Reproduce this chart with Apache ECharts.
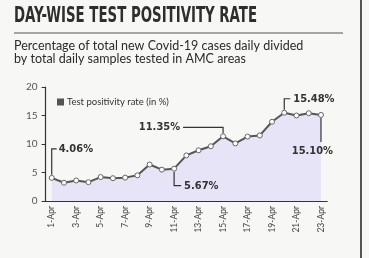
<!DOCTYPE html>
<html>
<head>
<meta charset="utf-8">
<script src="https://cdn.jsdelivr.net/npm/echarts@6/dist/echarts.min.js"></script>
<style>
  html, body { margin: 0; padding: 0; background: #f7f7f5; }
  #main { width: 369px; height: 258px; }
</style>
</head>
<body>
<div id="main"></div>
<script type="text/javascript">
// data
var days = ['1-Apr','2-Apr','3-Apr','4-Apr','5-Apr','6-Apr','7-Apr','8-Apr','9-Apr','10-Apr','11-Apr','12-Apr',
            '13-Apr','14-Apr','15-Apr','16-Apr','17-Apr','18-Apr','19-Apr','20-Apr','21-Apr','22-Apr','23-Apr'];
var rate = [4.06, 3.2, 3.6, 3.3, 4.2, 4.0, 4.1, 4.5, 6.4, 5.5, 5.67, 8.0,
            8.9, 9.6, 11.35, 10.1, 11.3, 11.5, 13.9, 15.48, 15.0, 15.4, 15.10];
var yTicks = [0, 5, 10, 15, 20];
var calloutIdx = [0, 14, 10, 19, 22];

var chart = echarts.init(document.getElementById('main'));
var ink = '#333';

var option = {
    backgroundColor: '#f7f7f5',
    animation: false,
    title: [{
        text: 'Percentage of total new Covid-19 cases daily divided\nby total daily samples tested in AMC areas',
        left: 14, top: 39, padding: 0,
        textStyle: { fontFamily: 'Lato', fontWeight: 'normal', fontSize: 12.5, lineHeight: 13.5, color: '#2b2b2b' }
    }],
    legend: {
        left: 52, top: 92,
        itemWidth: 7, itemHeight: 7, itemGap: 4,
        icon: 'rect',
        textStyle: { fontFamily: 'Lato', fontSize: 9.5, color: '#333', padding: [0, 0, 0, -2] },
        data: [{ name: 'Test positivity rate (in %)', itemStyle: { color: '#555', borderWidth: 0 } }]
    },
    grid: { left: 45.6, right: 41.9, top: 87, bottom: 57 },
    xAxis: {
        type: 'category',
        data: days,
        boundaryGap: true,
        axisLine: { lineStyle: { color: '#333', width: 1.2 } },
        axisTick: { alignWithLabel: true, interval: 0, length: 3, lineStyle: { color: '#333' } },
        axisLabel: { interval: 1, rotate: 90, fontFamily: 'Lato', fontSize: 8.5, color: '#444', margin: 5 }
    },
    yAxis: {
        type: 'value',
        min: yTicks[0], max: yTicks[yTicks.length - 1], interval: 5,
        axisLine: { show: true, lineStyle: { color: '#333', width: 1.2 } },
        axisTick: { show: true, length: 4, lineStyle: { color: '#333' } },
        splitLine: { show: false },
        axisLabel: { fontFamily: 'Lato', fontSize: 10, color: '#555', margin: 8 }
    },
    series: [{
        name: 'Test positivity rate (in %)',
        type: 'line',
        data: rate,
        symbol: 'circle',
        symbolSize: 5,
        lineStyle: { color: '#555', width: 2 },
        itemStyle: { color: '#fff', borderColor: '#666', borderWidth: 1 },
        areaStyle: { color: '#e6e4f6', opacity: 1 }
    }]
};
chart.setOption(option);

// heading: condensed look, squeezed to the width it has in the picture
var headFont = 'bold 21px "DejaVu Sans Condensed", "DejaVu Sans"';
var ctx = document.createElement('canvas').getContext('2d');
ctx.font = headFont;
var headW = ctx.measureText('DAY-WISE TEST POSITIVITY RATE').width;

// callouts: leader lines + labels placed from the data through the chart scales
function pt(i) { return chart.convertToPixel({ seriesIndex: 0 }, [i, rate[i]]); }
var font = 'bold 11px "DejaVu Sans Condensed", "DejaVu Sans"';
var els = [];
function lbl(x, y, txt, align, vAlign) {
    els.push({ type: 'text', z: 100, x: x, y: y, style: { text: txt, font: font, fill: ink, align: align, verticalAlign: vAlign || 'middle' } });
}
function leader(points) {
    els.push({ type: 'polyline', z: 100, shape: { points: points }, style: { stroke: ink, lineWidth: 1.2, fill: null } });
}
var p;
p = pt(calloutIdx[0]);
leader([[p[0], p[1] - 3], [p[0], p[1] - 29], [p[0] + 5, p[1] - 29]]);
lbl(p[0] + 7, p[1] - 29, rate[calloutIdx[0]].toFixed(2) + '%', 'left');

p = pt(calloutIdx[1]);
leader([[p[0], p[1] - 3], [p[0], p[1] - 9], [p[0] - 40, p[1] - 9]]);
lbl(p[0] - 43, p[1] - 9, rate[calloutIdx[1]].toFixed(2) + '%', 'right');

p = pt(calloutIdx[2]);
leader([[p[0], p[1] + 3], [p[0], p[1] + 17], [p[0] + 7, p[1] + 17]]);
lbl(p[0] + 10, p[1] + 17, rate[calloutIdx[2]].toFixed(2) + '%', 'left');

p = pt(calloutIdx[3]);
leader([[p[0], p[1] - 3], [p[0], p[1] - 14], [p[0] + 6, p[1] - 14]]);
lbl(p[0] + 9, p[1] - 14, rate[calloutIdx[3]].toFixed(2) + '%', 'left');

p = pt(calloutIdx[4]);
leader([[p[0], p[1] + 3], [p[0], p[1] + 27]]);
lbl(p[0] + 12, p[1] + 31, rate[calloutIdx[4]].toFixed(2) + '%', 'right', 'top');

// heading, rule under it and right frame edge
els.push({ type: 'text', x: 14, y: 6, scaleX: 243 / headW, style: { text: 'DAY-WISE TEST POSITIVITY RATE', font: headFont, fill: '#2e2e2e', align: 'left', verticalAlign: 'top' } });
els.push({ type: 'line', shape: { x1: 14, y1: 33, x2: 343, y2: 33 }, style: { stroke: '#555', lineWidth: 1.2 } });
els.push({ type: 'line', shape: { x1: 361, y1: 0, x2: 361, y2: 258 }, style: { stroke: '#555', lineWidth: 2 } });

chart.setOption({ graphic: els });
</script>
</body>
</html>
